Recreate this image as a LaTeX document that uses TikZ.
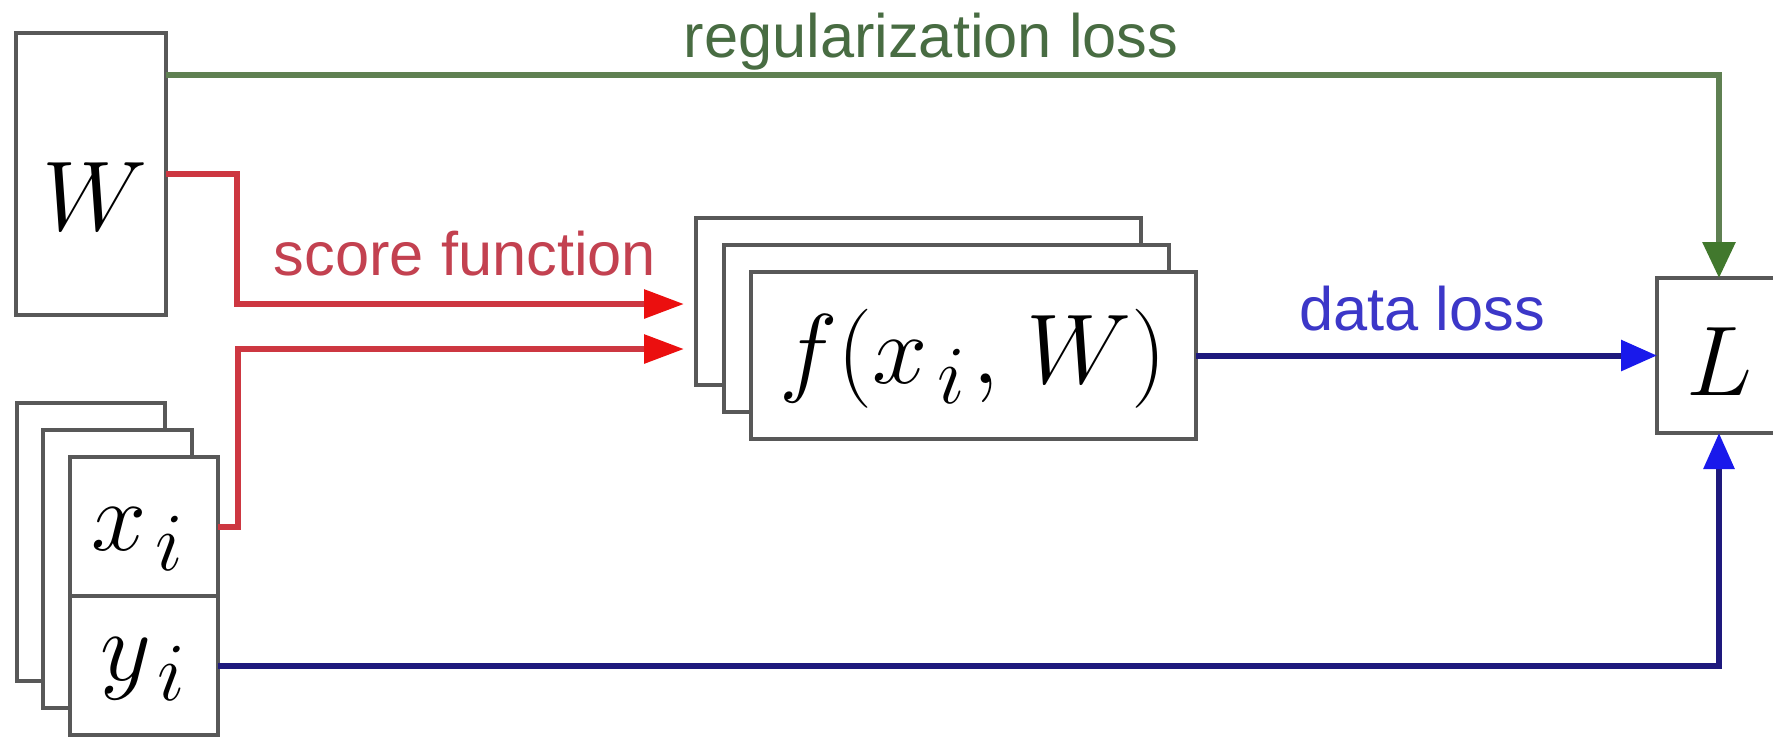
\documentclass[tikz,border=0pt]{standalone}
\usepackage{fontspec}
\setsansfont{Liberation Sans}
\usetikzlibrary{arrows.meta,calc}
\definecolor{boxgray}{RGB}{88,88,88}
\definecolor{lgreen}{RGB}{95,128,82}
\definecolor{agreen}{RGB}{65,120,45}
\definecolor{tgreen}{RGB}{72,108,66}
\definecolor{lred}{RGB}{205,55,65}
\definecolor{ared}{RGB}{235,15,15}
\definecolor{tred}{RGB}{195,65,80}
\definecolor{lblue}{RGB}{30,25,125}
\definecolor{ablue}{RGB}{25,25,235}
\definecolor{tblue}{RGB}{60,55,200}
\begin{document}
\begin{tikzpicture}[x=0.25bp,y=-0.25bp,
  box/.style={draw=boxgray,line width=1bp,fill=white,inner sep=0pt,outer sep=0pt},
  wbox/.style={box,minimum width=37.5bp,minimum height=70.5bp},
  xbox/.style={box,minimum width=37bp,minimum height=69.5bp},
  halfbox/.style={box,minimum width=37bp,minimum height=34.75bp},
  fbox/.style={box,minimum width=111.25bp,minimum height=41.75bp},
  lbox/.style={box,minimum width=31bp,minimum height=38.75bp},
  mathlbl/.style={inner sep=0pt,anchor=base,font=\fontsize{29}{34}\selectfont},
  lbl/.style={inner sep=0pt,anchor=base,font=\sffamily\fontsize{15.4}{18}\selectfont},
  conn/.style={line width=1.5bp},
  redtip/.style={-{Triangle[length=10bp,width=7bp,color=ared]}},
  bluetip/.style={-{Triangle[length=9bp,width=7.5bp,color=ablue]}},
  greentip/.style={-{Triangle[length=9bp,width=8bp,color=agreen]}}]
\useasboundingbox (0,0) rectangle (1773,737);
\fill[white] (0,0) rectangle (1773,737);

% W box
\node[wbox] (W) at (91,174) {};
\node[mathlbl] (Wt) at (95,230) {$W$};

% x_i / y_i stack
\node[xbox] (xb1) at (91,542) {};
\node[xbox] (xb2) at (117.5,569) {};
\node[halfbox] (xi) at (144,526.5) {};
\node[halfbox] (yi) at (144,665.5) {};
\node[mathlbl] (xit) at (138,550) {$x_{\mkern2mu i}$};
\node[mathlbl] (yit) at (144,680) {$y_{\mkern2mu i}$};

% f stack
\node[fbox] (fb1) at (918.5,301.5) {};
\node[fbox] (fb2) at (946,328.5) {};
\node[fbox] (f) at (973.5,355.5) {};
\node[mathlbl] (ft) at (973,383) {$f(x_{\mkern2mu i}\mkern1mu,\mkern2mu W)$};

% L box
\node[lbox] (L) at (1719,355.5) {};
\node[mathlbl] (Lt) at (1720,395) {$L$};

% input points of the score function
\coordinate (in1) at (684,304);
\coordinate (in2) at (684,349);

% connectors
\draw[conn,lgreen,greentip] ($(W.north east)+(0,42)$) -| (L.north);
\draw[conn,lred,redtip] (W.east) -- ++(71,0) |- (in1);
\draw[conn,lred,redtip] (xi.east) -- ++(20,0) |- (in2);
\draw[conn,lblue,bluetip] (f.east) -- (L.west);
\draw[conn,lblue,bluetip] (yi.east) -| (L.south);

% labels
\node[lbl,text=tgreen] (reg) at (931,57) {regularization loss};
\node[lbl,text=tred] (score) at (465,275) {score function};
\node[lbl,text=tblue] (data) at (1422,330) {data loss};
\end{tikzpicture}
\end{document}
